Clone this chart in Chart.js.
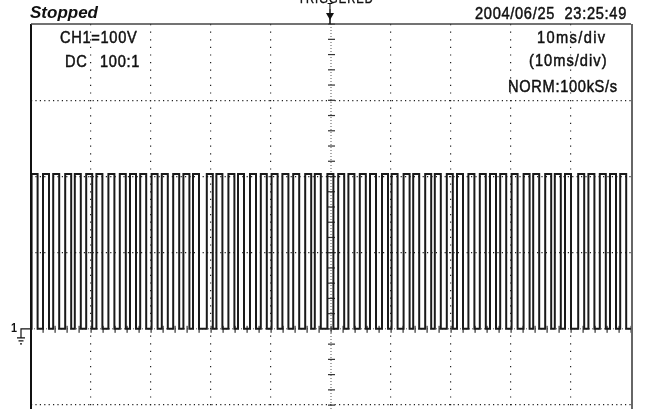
<!DOCTYPE html>
<html>
<head>
<meta charset="utf-8">
<script src="https://cdn.jsdelivr.net/npm/chart.js@4.4.1/dist/chart.umd.min.js"></script>
<style>
  html, body { margin: 0; padding: 0; background: #fff; overflow: hidden; }
  #wrap { position: absolute; left: 0; top: 0; width: 659px; height: 660px; }
</style>
</head>
<body>
<div id="wrap"><canvas id="scope" width="659" height="660"></canvas></div>
<script>
// CH1 pulse train, 10 ms/div, 100 V/div, trigger point at t = 0
const riseMs = [
  -49.9, -48.0, -46.3, -44.3, -42.7, -40.8, -39.1, -37.1, -35.2, -33.5, -31.8, -29.9, -28.2, -26.3,
  -24.6, -23.0, -20.7, -19.1, -17.1, -15.5, -13.5, -11.7, -9.9, -8.1, -6.3, -4.3, -2.7, -0.6,
  1.2, 2.9, 4.8, 6.5, 8.5, 10.1, 12.1, 13.7, 15.7, 17.3, 19.3, 21.0, 22.9,
  24.8, 26.5, 28.2, 30.1, 32.1, 33.7, 35.7, 37.3, 39.0, 41.2, 42.9, 44.8, 46.5, 48.2
];
const fallMs = [
  -48.9, -47.0, -45.3, -43.3, -41.7, -39.8, -38.1, -36.1, -34.2, -32.5, -30.8, -28.9, -27.2, -25.3,
  -23.6, -22.0, -19.7, -18.1, -16.1, -14.5, -12.5, -10.7, -8.9, -7.1, -5.3, -3.3, -1.7, 0.4,
  2.2, 3.9, 5.8, 7.5, 9.5, 11.1, 13.1, 14.7, 16.7, 18.3, 20.3, 22.0, 23.9,
  25.8, 27.5, 29.2, 31.1, 33.1, 34.7, 36.7, 38.3, 40.0, 42.2, 43.9, 45.8, 47.5, 49.2
];
const highV = 203;
const lowV = 0;

// screen range: 10 div x 8 div
const timeRange = [-50, 50];
const voltRange = [-400, 400];

// screen texts
const statusText = "Stopped";
const trigText = "TRIGGERED";
const dateText = "2004/06/25  23:25:49";
const chText = ["CH1=100V", "DC", "100:1"];
const timebaseText = ["10ms/div", "(10ms/div)", "NORM:100kS/s"];

// square wave from edge times
const trace = [{ x: timeRange[0], y: lowV }];
riseMs.forEach((r, i) => {
  trace.push({ x: r, y: lowV }, { x: r, y: highV }, { x: fallMs[i], y: highV }, { x: fallMs[i], y: lowV });
});
trace.push({ x: timeRange[1], y: lowV });

const SANS = '"Liberation Sans", Arial, sans-serif';

// condensed scope lettering: plain sans squeezed horizontally, slightly heavier
function text(ctx, str, x, y, font, sx, spacing, weight) {
  ctx.save();
  ctx.translate(x, y);
  ctx.scale(sx, 1);
  ctx.font = font;
  ctx.letterSpacing = (spacing || 0) + "px";
  ctx.fillText(str, 0, 0);
  if (weight) {
    ctx.lineWidth = weight;
    ctx.strokeText(str, 0, 0);
  }
  ctx.restore();
}

const scopePlugin = {
  id: "scopeScreen",
  beforeDatasetsDraw(chart) {
    const { ctx, chartArea: a, scales } = chart;
    const cx = scales.x.getPixelForValue(0);
    const cy = scales.y.getPixelForValue(0);
    ctx.save();
    ctx.fillStyle = "#555";
    // centre axes, dense dots
    for (let py = a.top; py < a.bottom; py += 3) ctx.fillRect(cx - 0.5, py, 1, 1);
    for (let px = a.left; px < a.right; px += 3) ctx.fillRect(px, cy - 0.5, 1, 1);
    // minor ticks, 1/5 div
    ctx.fillStyle = "#333";
    for (let v = voltRange[0]; v <= voltRange[1]; v += 20) {
      const py = scales.y.getPixelForValue(v);
      ctx.fillRect(cx - 3, py - 0.5, 7, 1.2);
    }
    for (let t = timeRange[0]; t <= timeRange[1]; t += 2) {
      const px = scales.x.getPixelForValue(t);
      ctx.fillRect(px - 0.5, cy - 3, 1.2, 7);
    }
    ctx.restore();
  },
  afterDraw(chart) {
    const { ctx, chartArea: a, scales } = chart;
    const cx = scales.x.getPixelForValue(0);
    const gy = scales.y.getPixelForValue(lowV);
    ctx.save();

    // frame
    ctx.strokeStyle = "#111";
    ctx.lineWidth = 2;
    ctx.beginPath(); ctx.moveTo(a.left, a.top); ctx.lineTo(a.left, a.bottom); ctx.stroke();
    ctx.strokeStyle = "#444";
    ctx.lineWidth = 1.5;
    ctx.beginPath(); ctx.moveTo(a.left, a.top); ctx.lineTo(a.right, a.top); ctx.stroke();
    ctx.strokeStyle = "#666";
    ctx.lineWidth = 2;
    ctx.beginPath(); ctx.moveTo(a.right + 1, a.top); ctx.lineTo(a.right + 1, a.bottom); ctx.stroke();

    ctx.fillStyle = "#111";
    ctx.strokeStyle = "#111";
    ctx.textBaseline = "alphabetic";
    ctx.textAlign = "left";

    const f = "17px " + SANS;
    text(ctx, statusText, 30, 18, "italic bold 17px " + SANS, 1.0, 0);
    text(ctx, dateText, 475, 18.5, f, 0.86, 0.8, 0.5);
    text(ctx, chText[0], 60, 43, f, 0.86, 0.8, 0.5);
    text(ctx, chText[1], 65, 66.5, f, 0.86, 0.8, 0.5);
    text(ctx, chText[2], 100, 66.5, f, 0.86, 0.8, 0.5);
    text(ctx, timebaseText[0], 537, 43, f, 0.86, 1.6, 0.5);
    text(ctx, timebaseText[1], 529, 66, f, 0.86, 1.2, 0.5);
    text(ctx, timebaseText[2], 508, 92, f, 0.86, 0.8, 0.5);

    // trigger state, mostly above the top edge
    ctx.textAlign = "center";
    text(ctx, trigText, 336, 3, "13px " + SANS, 0.86, 1.2, 0.4);

    // trigger position marker
    text(ctx, "T", cx - 1, 9, "bold 9px " + SANS, 0.9, 0);
    ctx.lineWidth = 1.5;
    ctx.beginPath(); ctx.moveTo(cx - 1, 9); ctx.lineTo(cx - 1, a.top); ctx.stroke();
    ctx.beginPath();
    ctx.moveTo(cx - 5, 13); ctx.lineTo(cx + 3, 13); ctx.lineTo(cx - 1, 20); ctx.closePath();
    ctx.fill();

    // ground level marker
    ctx.textAlign = "left";
    text(ctx, "1", 11, gy + 3, "bold 12px " + SANS, 0.9, 0);
    ctx.lineWidth = 1.2;
    ctx.beginPath();
    ctx.moveTo(a.left, gy); ctx.lineTo(21, gy); ctx.lineTo(21, gy + 9);
    ctx.moveTo(17, gy + 9); ctx.lineTo(25, gy + 9);
    ctx.moveTo(18.5, gy + 12); ctx.lineTo(23.5, gy + 12);
    ctx.moveTo(20, gy + 15); ctx.lineTo(22, gy + 15);
    ctx.stroke();
    ctx.restore();
  }
};

function gridColor(edgeVals) {
  return (c) => (edgeVals.includes(c.tick.value) ? "rgba(0,0,0,0)" : "#222");
}

new Chart(document.getElementById("scope"), {
  type: "line",
  data: {
    datasets: [{
      data: trace,
      borderColor: "#1a1a1a",
      borderWidth: 2,
      pointRadius: 0,
      tension: 0,
      fill: false
    }]
  },
  options: {
    responsive: false,
    animation: false,
    layout: { padding: { left: 31, top: 24, right: 28, bottom: 26.4 } },
    plugins: { legend: { display: false }, tooltip: { enabled: false } },
    scales: {
      x: {
        type: "linear",
        min: timeRange[0],
        max: timeRange[1],
        ticks: { display: false, stepSize: 10 },
        grid: { drawTicks: false, color: gridColor([-50, 0, 50]), lineWidth: 1.2 },
        border: { display: false, dash: [1.2, 6.4] }
      },
      y: {
        type: "linear",
        min: voltRange[0],
        max: voltRange[1],
        ticks: { display: false, stepSize: 100 },
        grid: { drawTicks: false, color: gridColor([-400, 0, 400]), lineWidth: 1.2 },
        border: { display: false, dash: [1.2, 3.2] }
      }
    }
  },
  plugins: [scopePlugin]
});
</script>
</body>
</html>
